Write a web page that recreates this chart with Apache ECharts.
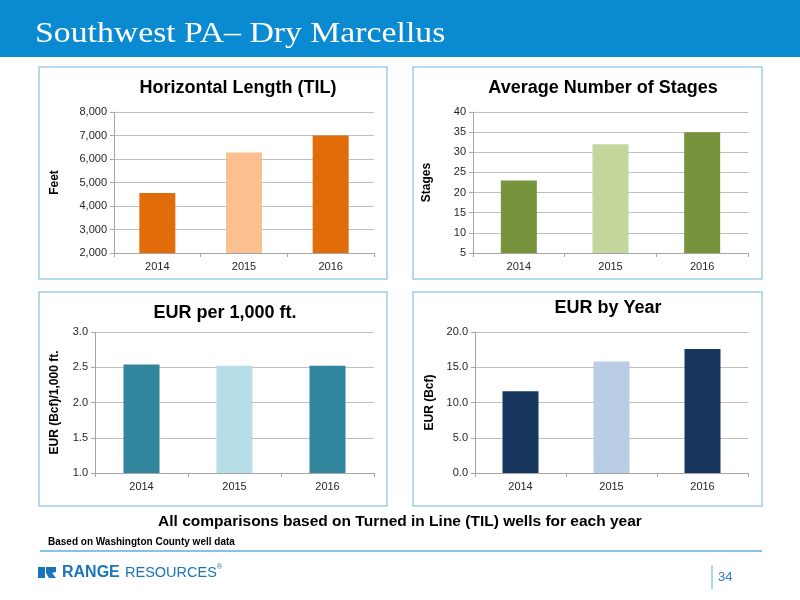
<!DOCTYPE html>
<html>
<head>
<meta charset="utf-8">
<script src="https://cdn.jsdelivr.net/npm/echarts@6/dist/echarts.min.js"></script>
<style>html,body{margin:0;padding:0;background:#fff}#c{width:800px;height:600px}</style>
</head>
<body>
<div id="c"></div>
<script>
var categories = ['2014', '2015', '2016'];
var lengthFeet = [4550, 6280, 7000];
var avgStages = [23, 32, 35];
var eurPer1000 = [2.54, 2.52, 2.52];
var eurByYear = [11.6, 15.8, 17.6];
var lengthTicks = { min: 2000, max: 8000, interval: 1000 };
var stagesTicks = { min: 5, max: 40, interval: 5 };
var eurPerTicks = { min: 1.0, max: 3.0, interval: 0.5 };
var eurTicks = { min: 0, max: 20, interval: 5 };

var orange = ['#E36C0A', '#FAC090', '#E36C0A'];
var green = ['#77933C', '#C3D69B', '#77933C'];
var teal = ['#31859C', '#B7DEE8', '#31859C'];
var navy = ['#17375E', '#B9CDE5', '#17375E'];

var FONT = '"Liberation Sans", Arial, sans-serif';
var grids = [
  { left: 114, top: 112, width: 260, height: 141 },
  { left: 473, top: 112, width: 275, height: 141 },
  { left: 95, top: 332, width: 279, height: 141 },
  { left: 475, top: 332, width: 273, height: 141 }
];
function xAx(i) {
  return {
    type: 'category', gridIndex: i, data: categories,
    axisLine: { lineStyle: { color: '#A6A6A6' } },
    axisTick: { show: true, length: 4, lineStyle: { color: '#A6A6A6' } },
    axisLabel: { color: '#262626', fontSize: 11, fontFamily: FONT, margin: 8 }
  };
}
function yAx(i, t, name, gap, fmt) {
  return {
    type: 'value', gridIndex: i, min: t.min, max: t.max, interval: t.interval,
    name: name, nameLocation: 'middle', nameGap: gap, nameRotate: 90,
    nameTextStyle: { fontWeight: 'bold', fontSize: 12, color: '#000', fontFamily: FONT },
    axisLine: { show: true, lineStyle: { color: '#A6A6A6' } },
    axisTick: { show: true, length: 4, lineStyle: { color: '#A6A6A6' } },
    splitLine: { lineStyle: { color: '#BFBFBF' } },
    axisLabel: { color: '#262626', fontSize: 11, fontFamily: FONT, margin: 7, formatter: fmt }
  };
}
function bar(i, data, pal) {
  return {
    type: 'bar', xAxisIndex: i, yAxisIndex: i, data: data, barWidth: 36,
    itemStyle: { color: function (p) { return pal[p.dataIndex]; } }
  };
}
function txt(x, y, s, font, color, align, extra) {
  var o = { type: 'text', x: x, y: y, style: { text: s, font: font, fill: color, textAlign: align || 'left', textVerticalAlign: 'middle' } };
  if (extra) for (var k in extra) o[k] = extra[k];
  return o;
}
function panel(x, y, w, h) {
  return { type: 'rect', shape: { x: x, y: y, width: w, height: h }, style: { fill: 'none', stroke: '#9ECDE8', lineWidth: 1.5 } };
}
var chart = echarts.init(document.getElementById('c'), null, { renderer: 'canvas' });
chart.setOption({
  animation: false,
  grid: grids,
  xAxis: [xAx(0), xAx(1), xAx(2), xAx(3)],
  yAxis: [
    yAx(0, lengthTicks, 'Feet', 53, function (v) { return v.toLocaleString('en-US'); }),
    yAx(1, stagesTicks, 'Stages', 40, function (v) { return String(v); }),
    yAx(2, eurPerTicks, 'EUR (Bcf)/1,000 ft.', 34, function (v) { return v.toFixed(1); }),
    yAx(3, eurTicks, 'EUR (Bcf)', 39, function (v) { return v.toFixed(1); })
  ],
  series: [bar(0, lengthFeet, orange), bar(1, avgStages, green), bar(2, eurPer1000, teal), bar(3, eurByYear, navy)],
  graphic: [
    { type: 'rect', shape: { x: 0, y: 0, width: 800, height: 57 }, style: { fill: '#0A8AD0' } },
    txt(35, 34, 'Southwest PA\u2013 Dry Marcellus', '30px "Liberation Serif", "Times New Roman", serif', '#FFFFFF', 'left', { scaleX: 1.125 }),
    panel(39, 67, 348, 212),
    panel(413, 67, 349, 212),
    panel(39, 292, 348, 214),
    panel(413, 292, 349, 214),
    txt(238, 88, 'Horizontal Length (TIL)', 'bold 18px ' + FONT, '#000', 'center'),
    txt(603, 88, 'Average Number of Stages', 'bold 18px ' + FONT, '#000', 'center'),
    txt(225, 313, 'EUR per 1,000 ft.', 'bold 18px ' + FONT, '#000', 'center'),
    txt(608, 308, 'EUR by Year', 'bold 18px ' + FONT, '#000', 'center'),
    txt(400, 522, 'All comparisons based on Turned in Line (TIL) wells for each year', 'bold 15.5px ' + FONT, '#000', 'center'),
    txt(48, 542, 'Based on Washington County well data', 'bold 10px ' + FONT, '#000', 'left'),
    { type: 'line', shape: { x1: 40, y1: 551, x2: 762, y2: 551 }, style: { stroke: '#5BB0DD', lineWidth: 1.5 } },
    { type: 'rect', shape: { x: 38, y: 567, width: 7, height: 11 }, style: { fill: '#1A75BC' } },
    { type: 'polygon', shape: { points: [[46, 567], [56, 567], [56, 572], [52, 573], [56, 578], [49, 578], [46, 573]] }, style: { fill: '#1A75BC' } },
    txt(62, 573, 'RANGE', 'bold 16px ' + FONT, '#1A75BC', 'left'),
    txt(125, 573, 'RESOURCES', '14.5px ' + FONT, '#1A75BC', 'left'),
    txt(217, 567, '\u00AE', '7px ' + FONT, '#1A75BC', 'left'),
    { type: 'line', shape: { x1: 712, y1: 565, x2: 712, y2: 589 }, style: { stroke: '#5BB0DD', lineWidth: 1 } },
    txt(718, 577, '34', '13px ' + FONT, '#2F7DC0', 'left')
  ]
});
</script>
</body>
</html>
